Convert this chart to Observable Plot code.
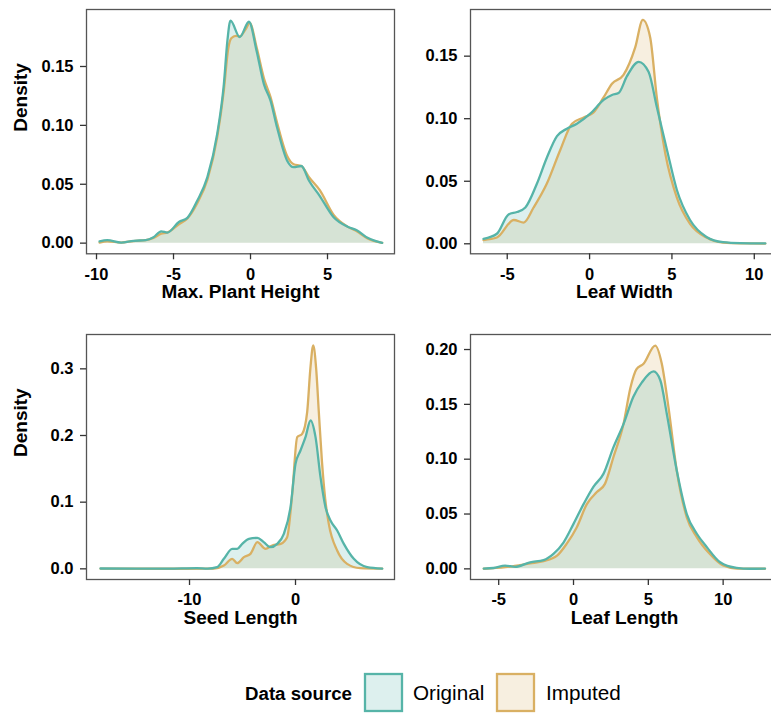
<!DOCTYPE html>
<html><head><meta charset="utf-8">
<script src="https://cdn.jsdelivr.net/npm/d3@7"></script>
<script src="https://cdn.jsdelivr.net/npm/@observablehq/plot@0.6"></script>
<style>
body{margin:0;background:#fff;}
#root{position:relative;width:771px;height:713px;overflow:hidden;background:#fff;font-family:"Liberation Sans",Arial,sans-serif;}
.panel{position:absolute;width:400px;}
.panel svg{max-width:none !important;}
</style></head><body><div id="root"></div>
<script>
// ---------- data ----------
const sources = ["Original", "Imputed"];
const sourceColors = ["#56b4a8", "#d9b063"];
const panelTitles = ["Max. Plant Height", "Leaf Width", "Seed Length", "Leaf Length"];

// Max. Plant Height
const heightOrigX = [-9.8,-9.3,-8.4,-7.6,-6.8,-6.3,-5.8,-5.4,-4.65,-4.1,-3.46,-2.8,-2.16,-1.73,-1.5,-1.3,-0.7,-0.1,0.4,0.87,1.3,1.73,2.38,2.8,3.3,3.8,4.5,5.4,6.3,6.9,7.6,8.55];
const heightOrigY = [0.0015,0.0025,0.0005,0.002,0.0025,0.005,0.010,0.009,0.018,0.0215,0.036,0.056,0.093,0.135,0.172,0.189,0.175,0.188,0.163,0.135,0.121,0.098,0.070,0.0645,0.0655,0.053,0.040,0.022,0.014,0.011,0.0045,0.0003];
const heightImpX = [-9.8,-9.3,-8.4,-7.6,-6.8,-6.3,-5.8,-5.4,-4.65,-4.1,-3.46,-2.8,-2.16,-1.73,-1.45,-1.25,-0.95,-0.7,-0.3,-0.05,0.4,0.87,1.3,1.73,2.38,2.8,3.3,3.8,4.5,5.4,6.3,6.9,7.6,8.55];
const heightImpY = [0.0005,0.0015,0.0005,0.0018,0.0025,0.0045,0.008,0.009,0.016,0.021,0.034,0.054,0.090,0.130,0.165,0.174,0.176,0.1755,0.182,0.187,0.166,0.140,0.124,0.102,0.074,0.067,0.0655,0.056,0.045,0.024,0.014,0.010,0.004,0.0002];

// Leaf Width
const widthOrigX = [-6.44,-5.63,-4.92,-4.41,-3.9,-3.2,-2.59,-1.98,-1.38,-0.77,0.04,0.85,1.36,1.76,2.27,2.98,3.58,4.09,4.7,5.3,6.1,7.1,8.1,9.15,10.67];
const widthOrigY = [0.004,0.008,0.0235,0.0254,0.029,0.048,0.069,0.086,0.092,0.096,0.104,0.115,0.119,0.1205,0.134,0.1455,0.1375,0.109,0.075,0.043,0.019,0.0055,0.0013,0.0005,0.0003];
const widthImpX = [-6.44,-5.63,-4.6,-4.0,-3.4,-2.6,-1.78,-1.07,-0.36,0.24,0.85,1.36,2.06,2.77,3.23,3.68,4.09,4.6,5.3,6.1,7.1,8.1,9.15,10.67];
const widthImpY = [0.003,0.005,0.019,0.017,0.029,0.048,0.075,0.096,0.101,0.105,0.117,0.128,0.135,0.157,0.179,0.165,0.116,0.072,0.037,0.016,0.005,0.001,0.0003,0.0002];

// Seed Length
const seedOrigX = [-18.4,-15,-12,-9.3,-8.3,-7.4,-6.76,-5.97,-5.5,-5.03,-4.4,-3.6,-3.0,-2.36,-1.73,-1.1,-0.47,0,0.47,0.94,1.42,1.89,2.36,2.83,3.3,3.93,4.56,5.5,6.76,8.18];
const seedOrigY = [0.0005,0.0002,0.0003,0.001,0.0003,0.0025,0.015,0.030,0.030,0.0375,0.045,0.0465,0.040,0.0325,0.0375,0.0525,0.0925,0.1575,0.1775,0.1975,0.2225,0.1975,0.1375,0.0925,0.0725,0.0575,0.0375,0.015,0.0025,0.0003];
const seedImpX = [-18.4,-12,-7.7,-6.76,-5.97,-5.5,-4.87,-4.25,-3.6,-2.83,-2.2,-1.4,-0.79,-0.31,0.16,0.63,1.1,1.4,1.67,1.95,2.2,2.5,2.8,3.14,3.93,4.87,6.1,8.18];
const seedImpY = [0.0002,0.0001,0.0003,0.005,0.015,0.0085,0.0175,0.0225,0.040,0.030,0.035,0.0375,0.0475,0.1125,0.1975,0.2025,0.235,0.30,0.335,0.30,0.235,0.16,0.105,0.0675,0.0275,0.0075,0.001,0.0002];

// Leaf Length
const lengthOrigX = [-6.0,-5.35,-4.57,-3.9,-2.9,-2.0,-1.34,-0.67,0,0.67,1.34,2.0,2.67,3.34,4.0,4.57,5.35,5.8,6.24,6.9,7.57,8.24,8.9,9.8,10.9,11.8,12.8];
const lengthOrigY = [0.0003,0.0008,0.003,0.0018,0.006,0.008,0.0137,0.024,0.041,0.059,0.075,0.0866,0.111,0.132,0.157,0.170,0.180,0.172,0.141,0.0897,0.050,0.032,0.020,0.006,0.0009,0.0001,0.0003];
const lengthImpX = [-6.0,-4.57,-2.9,-2.0,-1.1,-0.45,0.22,0.89,1.56,2.1,2.67,3.34,3.8,4.2,4.68,5.46,5.9,6.35,6.9,7.57,8.24,9.1,10.0,10.9,12.8];
const lengthImpY = [0.0001,0.0015,0.005,0.007,0.012,0.023,0.038,0.059,0.070,0.0775,0.102,0.132,0.165,0.182,0.187,0.2036,0.187,0.147,0.0897,0.047,0.029,0.0137,0.003,0.0003,0.0001];

// tick values
const heightXTicks = [-10, -5, 0, 5];
const widthXTicks = [-5, 0, 5, 10];
const seedXTicks = [-10, 0];
const lengthXTicks = [-5, 0, 5, 10];
const heightYTicks = [0, 0.05, 0.10, 0.15];
const widthYTicks = [0, 0.05, 0.10, 0.15];
const seedYTicks = [0, 0.1, 0.2, 0.3];
const lengthYTicks = [0, 0.05, 0.10, 0.15, 0.20];

// ---------- drawing ----------
const root = document.getElementById("root");
const FONT = '"Liberation Sans", Arial, sans-serif';
const ML = 86, MT = 9, FW = 308, MR = 6, MB = 57;

function toRows(xs, ys) { return xs.map((x, i) => ({x, y: ys[i]})); }

function panel(o) {
  const fh = o.frameH;
  const orig = toRows(o.ox, o.oy), imp = toRows(o.ix, o.iy);
  const curve = "monotone-x";
  const marks = [
    Plot.areaY(imp, {x: "x", y: "y", fill: sourceColors[1], fillOpacity: 0.2, curve}),
    Plot.areaY(orig, {x: "x", y: "y", fill: sourceColors[0], fillOpacity: 0.2, curve}),
    Plot.lineY(imp, {x: "x", y: "y", stroke: sourceColors[1], strokeWidth: 2.3, curve}),
    Plot.lineY(orig, {x: "x", y: "y", stroke: sourceColors[0], strokeWidth: 2.3, curve}),
    Plot.frame({stroke: "#555", strokeWidth: 1.3}),
    Plot.axisX({ticks: o.xTicks, tickFormat: d => String(d), tickSize: 6, tickPadding: 8,
      fontSize: 16.5, fontWeight: "bold", label: null, stroke: "#333", strokeWidth: 1.3, fill: "#000"}),
    Plot.axisY({ticks: o.yTicks, tickFormat: d3.format(o.yFmt), tickSize: 6, tickPadding: 7,
      fontSize: 16.5, fontWeight: "bold", label: null, stroke: "#333", strokeWidth: 1.3, fill: "#000"}),
    Plot.text([o.title], {text: d => d, frameAnchor: "bottom", dy: 44, fontSize: 19, fontWeight: "bold", fill: "#000"})
  ];
  if (o.showY) marks.push(Plot.text(["Density"], {text: d => d, frameAnchor: "left", rotate: -90, dx: -65.7, fontSize: 19, fontWeight: "bold", fill: "#000"}));
  const W = ML + FW + MR, H = MT + fh + MB;
  const svg = Plot.plot({
    width: W, height: H,
    marginLeft: ML, marginTop: MT, marginRight: MR, marginBottom: MB,
    x: {domain: o.xDomain}, y: {domain: o.yDomain},
    style: {fontFamily: FONT, background: "transparent", overflow: "visible", maxWidth: "none", width: W + "px", height: H + "px"},
    marks
  });
  const div = document.createElement("div");
  div.className = "panel";
  div.style.left = o.left + "px";
  div.style.top = o.top + "px";
  div.style.width = W + "px";
  div.style.height = H + "px";
  div.appendChild(svg);
  root.appendChild(div);
}

panel({title: panelTitles[0], ox: heightOrigX, oy: heightOrigY, ix: heightImpX, iy: heightImpY,
  xDomain: [-10.65, 9.35], yDomain: [-0.00905, 0.1984], xTicks: heightXTicks, yTicks: heightYTicks, yFmt: ".2f",
  showY: true, left: 0, top: 0, frameH: 244.3});
panel({title: panelTitles[1], ox: widthOrigX, oy: widthOrigY, ix: widthImpX, iy: widthImpY,
  xDomain: [-7.23, 11.47], yDomain: [-0.008, 0.1873], xTicks: widthXTicks, yTicks: widthYTicks, yFmt: ".2f",
  showY: false, left: 384.3, top: 0, frameH: 244.3});
panel({title: panelTitles[2], ox: seedOrigX, oy: seedOrigY, ix: seedImpX, iy: seedImpY,
  xDomain: [-19.72, 9.34], yDomain: [-0.016, 0.3515], xTicks: seedXTicks, yTicks: seedYTicks, yFmt: ".1f",
  showY: true, left: 0, top: 325, frameH: 245});
panel({title: panelTitles[3], ox: lengthOrigX, oy: lengthOrigY, ix: lengthImpX, iy: lengthImpY,
  xDomain: [-6.885, 13.7], yDomain: [-0.0097, 0.2137], xTicks: lengthXTicks, yTicks: lengthYTicks, yFmt: ".2f",
  showY: false, left: 384.3, top: 325, frameH: 245});

// ---------- legend ----------
const ns = "http://www.w3.org/2000/svg";
const leg = document.createElementNS(ns, "svg");
leg.setAttribute("width", 771); leg.setAttribute("height", 60);
leg.style.position = "absolute"; leg.style.left = "0px"; leg.style.top = "660px";
leg.style.fontFamily = FONT;
function el(tag, attrs, text) {
  const e = document.createElementNS(ns, tag);
  for (const k in attrs) e.setAttribute(k, attrs[k]);
  if (text) e.textContent = text;
  leg.appendChild(e);
  return e;
}
el("text", {x: 245, y: 39.5, "font-size": 18.7, "font-weight": "bold", fill: "#000"}, "Data source");
const boxX = [365, 497], labX = [413, 546];
sources.forEach((s, i) => {
  el("rect", {x: boxX[i], y: 14, width: 37, height: 37, fill: sourceColors[i], "fill-opacity": 0.2, stroke: sourceColors[i], "stroke-width": 2.3});
  el("text", {x: labX[i], y: 40, "font-size": 20.7, fill: "#000"}, s);
});
root.appendChild(leg);
</script>
</body></html>
